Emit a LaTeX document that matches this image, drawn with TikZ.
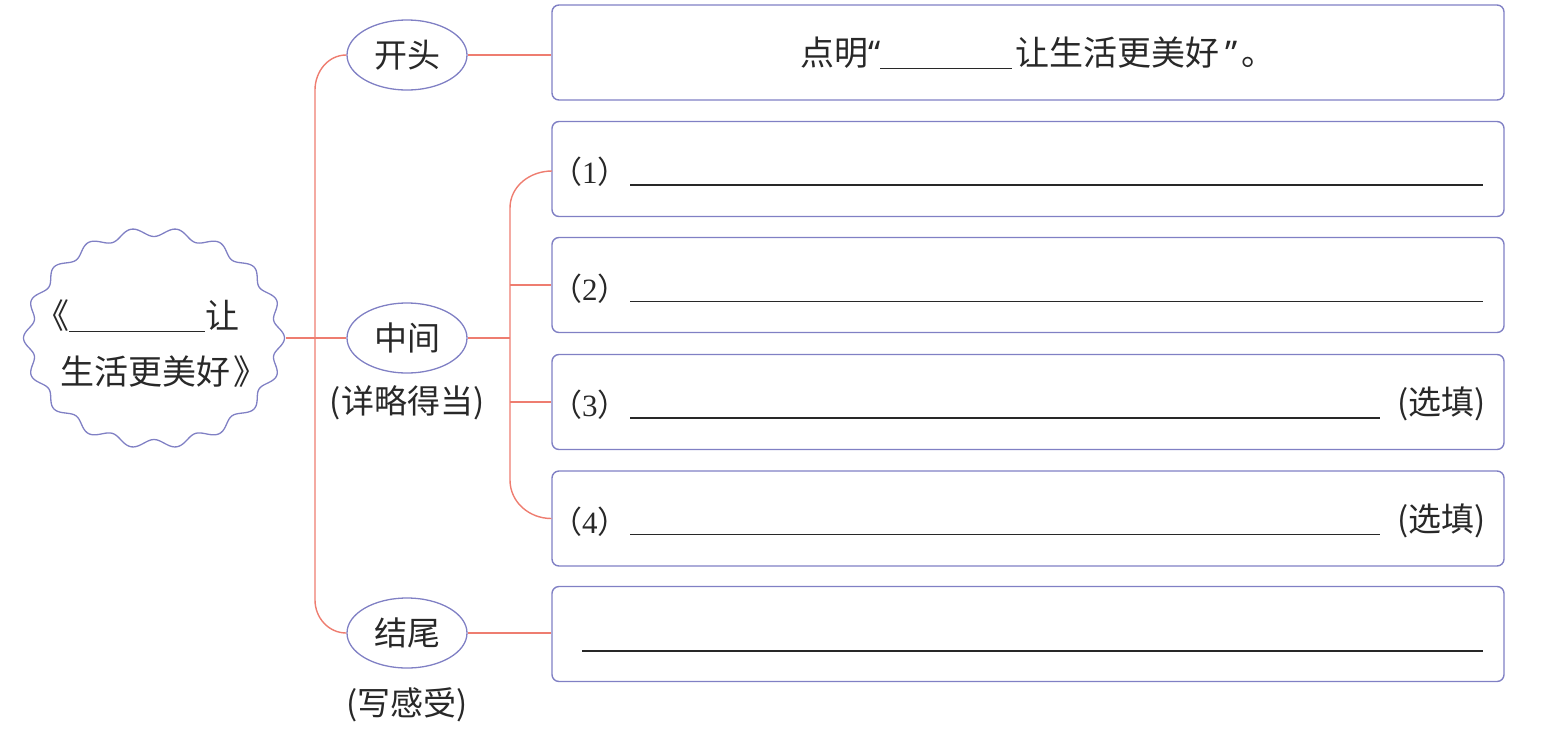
\documentclass[tikz,border=0pt]{standalone}
\usepackage{fontspec}
\setmainfont{Noto Sans CJK SC}
\newfontfamily\serifnum{Liberation Serif}
\newfontfamily\lat{Noto Sans}
\usetikzlibrary{shapes.geometric}
\definecolor{lred}{RGB}{238,125,112}
\definecolor{lblue}{RGB}{128,128,196}
\definecolor{ink}{RGB}{40,40,40}
\tikzset{
  box/.style={draw=lblue, line width=1.4pt, rounded corners=7pt, minimum width=952pt, minimum height=95pt, inner sep=0pt},
  oval/.style={draw=lblue, line width=1.3pt, ellipse, minimum width=120pt, minimum height=70pt, inner sep=0pt, text=ink, font=\fontsize{33}{36}\selectfont},
  conn/.style={draw=lred, line width=1.4pt},
  txt/.style={inner sep=0pt, text=ink, font=\fontsize{33}{36}\selectfont},
  uline/.style={line width=1.2pt, ink}
}
\begin{document}
\begin{tikzpicture}[x=1pt,y=-1pt]
\useasboundingbox (0,0) rectangle (1561,729);
% star
\draw[lblue, line width=1.3pt] plot[domain=0:360, samples=361] ({154+(126+4.5*cos(18*\x))*cos(\x)}, {338+(106+4.5*cos(18*\x))*sin(\x)}) -- cycle;
\node[txt, font=\fontsize{34}{36}\selectfont, anchor=west] (star1) at (35,316) {《\rule[-4pt]{136pt}{1.2pt}让};
\node[txt, font=\fontsize{34}{36}\selectfont, anchor=west] (star2) at (60,372) {生活更美好\hspace{3pt}》};
\coordinate (starR) at (286,338);
% boxes
\node[box] (b1) at (1028,52.5) {};
\node[box] (b2) at (1028,169) {};
\node[box] (b3) at (1028,285) {};
\node[box] (b4) at (1028,402) {};
\node[box] (b5) at (1028,518.5) {};
\node[box] (b6) at (1028,634) {};
% ovals
\node[oval] (e1) at (407,55) {开头};
\node[oval] (e2) at (407,338) {中间};
\node[oval] (e3) at (407,633) {结尾};
\node[txt] (l2) at (407,403) {(详略得当)};
\node[txt] (l3) at (407,705) {(写感受)};
% connectors left
\coordinate (t1) at (315,90);
\coordinate (t3) at (315,600);
\draw[conn] (e1.west) to[out=180,in=90] (t1) -- (t3) to[out=-90,in=180] (e3.west);
\draw[conn] (starR) -- (e2.west);
\draw[conn] (e1.east) -- (e1.east -| b1.west);
\draw[conn] (e3.east) -- (e3.east -| b6.west);
% connectors right
\coordinate (s1) at (510,208);
\coordinate (s2) at (510,480);
\coordinate (b2w) at (552,171);
\draw[conn] (b2w) to[out=180,in=90] (s1) -- (s2) to[out=-90,in=180] (b5.west);
\draw[conn] (e2.east) -- (e2.east -| s1);
\draw[conn] (b3.west -| s1) -- (b3.west);
\draw[conn] (b4.west -| s1) -- (b4.west);
% box texts
\node[txt, font=\fontsize{34}{36}\selectfont, anchor=west] (x1) at (800,53) {点明{\lat “}\rule[-4pt]{132pt}{1.2pt}\hspace{3pt}让生活更美好\hspace{6pt}{\lat ”}\hspace{4pt}。};
\node[txt, font=\fontsize{31}{32}\selectfont, anchor=west] (n1) at (551,172) {（{\serifnum 1}）};
\node[txt, font=\fontsize{31}{32}\selectfont, anchor=west] (n2) at (551,288.5) {（{\serifnum 2}）};
\node[txt, font=\fontsize{31}{32}\selectfont, anchor=west] (n3) at (551,405) {（{\serifnum 3}）};
\node[txt, font=\fontsize{31}{32}\selectfont, anchor=west] (n4) at (551,521.5) {（{\serifnum 4}）};
\draw[uline] (630,185) -- (1483,185);
\draw[uline] (630,301.5) -- (1483,301.5);
\draw[uline] (630,418) -- (1380,418);
\draw[uline] (630,534.5) -- (1380,534.5);
\node[txt, anchor=east] (o3) at (1486,404) {(选填)};
\node[txt, anchor=east] (o4) at (1486,520.5) {(选填)};
\draw[uline] (582,651) -- (1483,651);
\end{tikzpicture}
\end{document}
